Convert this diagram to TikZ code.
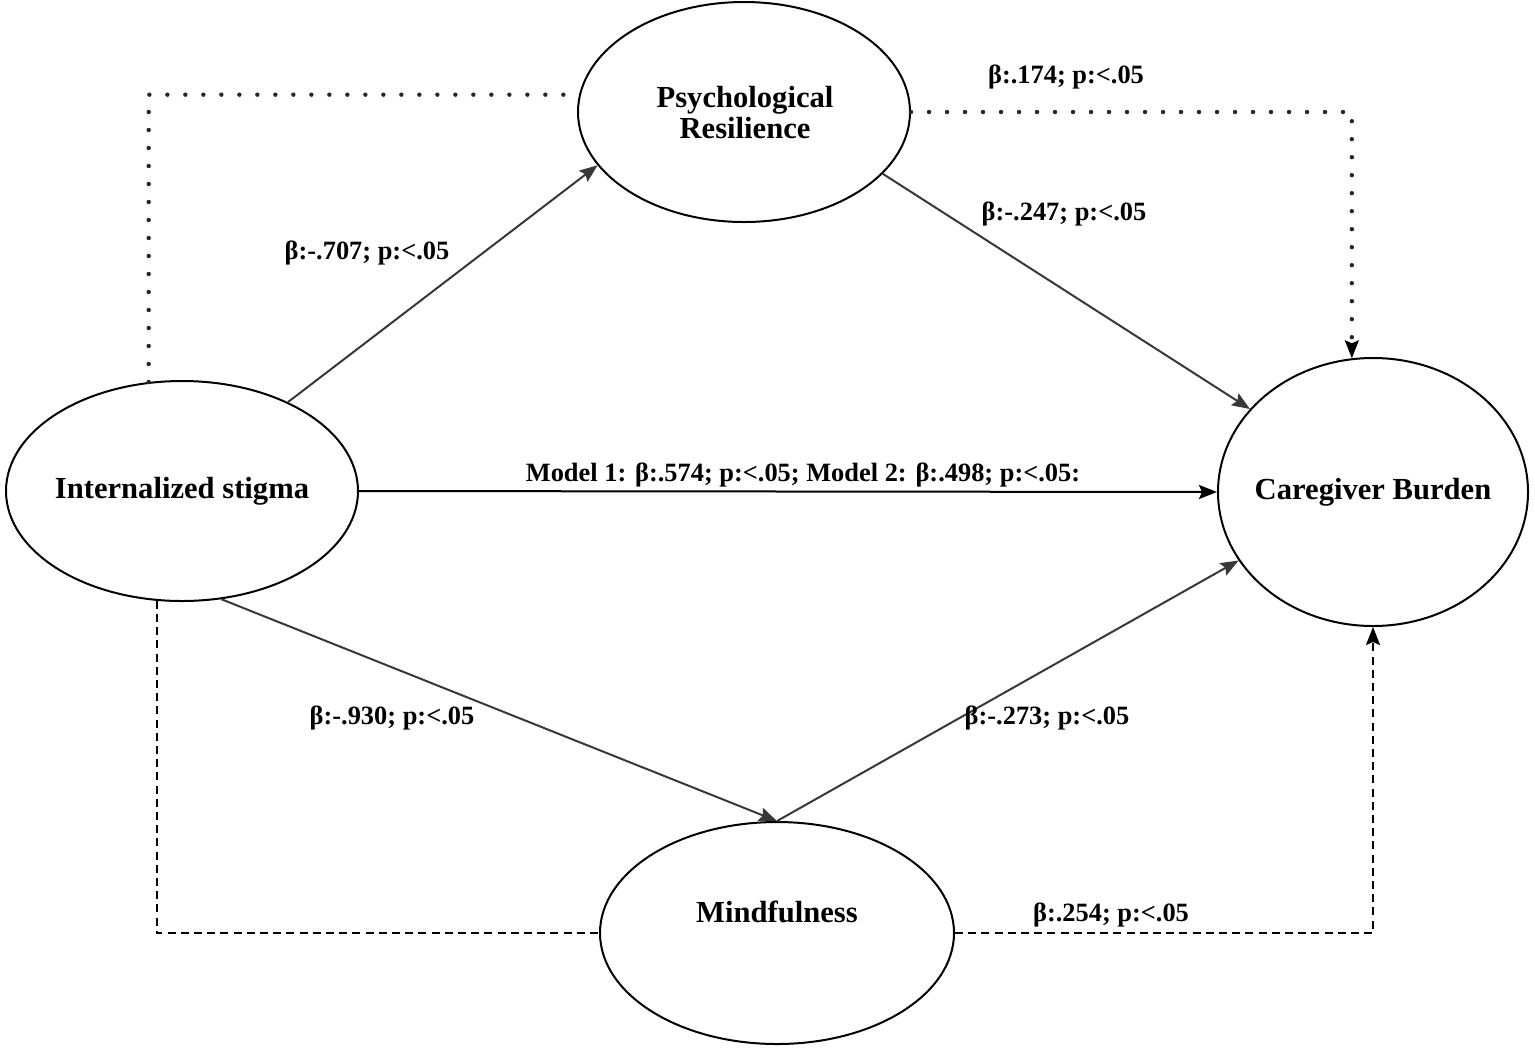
\documentclass[tikz,border=0pt]{standalone}
\usepackage{fontspec}
\setmainfont{Liberation Serif}
\usetikzlibrary{shapes.geometric,arrows.meta}
\newcommand{\zbox}[1]{\makebox[0pt][c]{#1}}
\begin{document}
\begin{tikzpicture}[x=0.5pt,y=-0.5pt,
  oval/.style={draw=black,line width=1pt,ellipse,inner sep=0pt,
    font=\fontsize{15.3}{15.5}\selectfont\bfseries},
  ovaltext/.style={font=\fontsize{15.3}{15.5}\selectfont\bfseries,inner sep=0pt,align=center},
  lab/.style={font=\fontsize{13.2}{14}\selectfont\bfseries,inner sep=0pt},
  tip/.style={-{Stealth[length=9pt,width=7pt,inset=1.5pt]}},
  solid path/.style={line width=1pt,draw=black!78},
  dotline/.style={line width=2.2pt,line cap=round,dash pattern=on 0pt off 9pt,draw=black!85},
  dashline/.style={line width=0.9pt,dash pattern=on 4pt off 2.6pt}]
\useasboundingbox (0,0) rectangle (1535,1051);
% nodes
\node[oval,minimum width=176pt,minimum height=110pt] (IS) at (182,491) {\zbox{Internalized stigma}};
\node[oval,minimum width=166pt,minimum height=110pt] (PR) at (744,112) {};
\node[ovaltext] (PRt) at (745,113) {Psychological\\Resilience};
\node[oval,minimum width=155pt,minimum height=134pt] (CB) at (1373,492) {\zbox{Caregiver Burden}};
\node[oval,minimum width=177pt,minimum height=111pt] (M) at (777,933) {};
\node[ovaltext] (Mt) at (777,912) {Mindfulness};
% dotted and dashed paths
\draw[dotline] (IS.107) |- (PR.174);
\draw[dotline] (PR.east) -| ([yshift=6pt]CB.99);
\draw[tip,line width=0.9pt] ([yshift=6pt]CB.99) -- (CB.99);
\draw[dashline] (IS.257) |- (M.west);
\draw[dashline,-{Stealth[length=9pt,width=7pt,inset=1.5pt]}] (M.east) -| (CB.south);
% solid paths
\draw[solid path,tip] (IS.40) -- (PR.200);
\draw[solid path,tip] (PR.336) -- (CB.146);
\draw[line width=1pt,tip] (IS.east) -- (CB.west);
\draw[solid path,tip] (IS.290) -- (M.north);
\draw[solid path,tip] (M.north) -- (CB.207);
% labels
\node[lab] (l1) at (1066,77) {β:.174; p:<.05};
\node[lab] (l2) at (1064,214) {β:-.247; p:<.05};
\node[lab] (l3) at (367,253) {β:-.707; p:<.05};
\node[lab] (l4) at (803,475) {Model 1: β:.574; p:<.05; Model 2: β:.498; p:<.05:};
\node[lab] (l5) at (392,718) {β:-.930; p:<.05};
\node[lab] (l6) at (1047,718) {β:-.273; p:<.05};
\node[lab] (l7) at (1111,915) {β:.254; p:<.05};
\end{tikzpicture}
\end{document}
